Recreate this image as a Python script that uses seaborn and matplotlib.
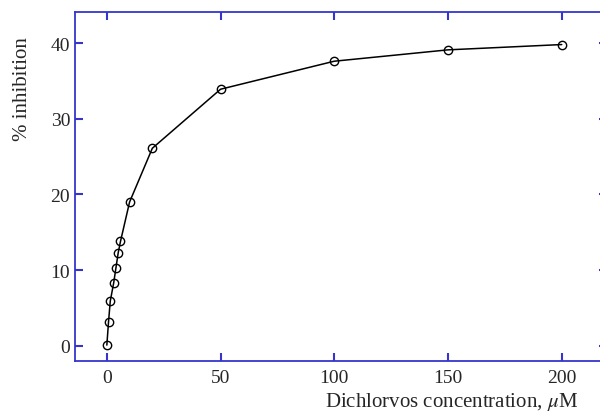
import numpy as np
import pandas as pd
import seaborn as sns
import matplotlib
matplotlib.use("Agg")
import matplotlib.pyplot as plt

# data
conc = [0, 0.75, 1.5, 3, 4, 5, 6, 10, 20, 50, 100, 150, 200]
inhibition = [0.1, 3.2, 5.9, 8.3, 10.3, 12.3, 13.8, 19.0, 26.1, 33.9, 37.6, 39.1, 39.8]
xticks = [0, 50, 100, 150, 200]
yticks = [0, 10, 20, 30, 40]

sns.set_style("ticks")
plt.rcParams['font.family'] = ['Liberation Serif', 'DejaVu Serif']
plt.rcParams['mathtext.fontset'] = 'stix'

blue = "#3535cc"
df = pd.DataFrame({"conc": conc, "inh": inhibition})

fig = plt.figure(figsize=(6, 4.14), dpi=100)
ax = fig.add_axes([0.125, 0.1256, 0.887, 0.843])

sns.lineplot(data=df, x="conc", y="inh", ax=ax, color="black", linewidth=1.1,
             marker="o", markersize=6, markerfacecolor="none",
             markeredgecolor="black", markeredgewidth=1.0)

ax.set_xlim(-14, 220)
ax.set_ylim(-2, 44.1)
ax.set_xticks(xticks)
ax.set_yticks(yticks)
for s in ax.spines.values():
    s.set_color(blue)
    s.set_linewidth(1.3)
ax.tick_params(direction="in", length=6, width=1.5, color=blue,
               labelsize=14, top=True, right=True)
ax.tick_params(axis="x", pad=6)
ax.tick_params(axis="y", pad=3.5)

ax.set_xlabel("")
ax.set_ylabel("")
fig.text(0.963, 0.018, r"Dichlorvos concentration, $\mu$M", ha="right",
         va="baseline", fontsize=15)
fig.text(0.037, 0.91, "% inhibition", rotation=90, ha="center", va="top",
         fontsize=15)

fig.savefig("out.png", dpi=100)
